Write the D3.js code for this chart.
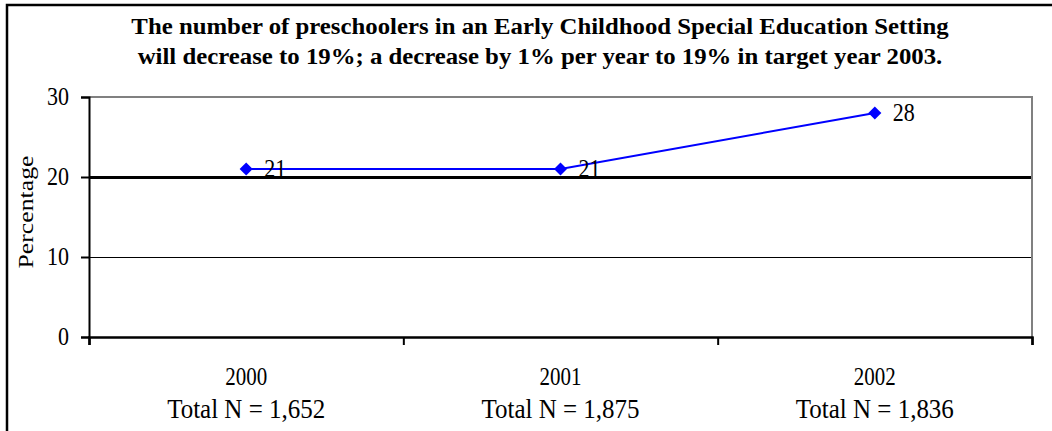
<!DOCTYPE html>
<html>
<head>
<meta charset="utf-8">
<script src="https://cdn.jsdelivr.net/npm/d3@7"></script>
<style>
  body { margin: 0; background: #fff; }
  svg { display: block; }
  text { font-family: "Liberation Serif", "Times New Roman", serif; fill: #000; }
</style>
</head>
<body>
<script>
var years = ["2000", "2001", "2002"];
var totals = ["Total N = 1,652", "Total N = 1,875", "Total N = 1,836"];
var percentages = [21, 21, 28];
var yTicks = [0, 10, 20, 30];
var titleLines = [
  "The number of preschoolers in an Early Childhood Special Education Setting",
  "will decrease to 19%; a decrease by 1% per year to 19% in target year 2003."
];
var yLabel = "Percentage";

var width = 1052;
var height = 431;
var stretch = 1.17;   // the source glyphs are drawn taller than normal
var plotLeft = 89, plotRight = 1032, plotTop = 97, plotBottom = 337;

var svg = d3.select("body")
  .append("svg")
  .attr("width", width)
  .attr("height", height);

// outer chart frame (runs off the right and bottom of the picture)
svg.append("rect")
  .attr("x", 7)
  .attr("y", 5)
  .attr("width", width + 20)
  .attr("height", height + 20)
  .attr("fill", "none")
  .attr("stroke", "#000")
  .attr("stroke-width", 2.5);

var x = d3.scaleLinear()
  .domain([0, years.length])
  .range([plotLeft, plotRight]);

var y = d3.scaleLinear()
  .domain([0, 30])
  .range([plotBottom, plotTop]);

function stretchedText(parent, tx, ty, str, size, anchor, weight, sy) {
  var g = parent.append("g")
    .attr("transform", "translate(" + tx + "," + ty + ") scale(1," + (sy || stretch) + ")");
  return g.append("text")
    .text(str)
    .attr("font-size", size + "px")
    .attr("font-weight", weight || "normal")
    .attr("text-anchor", anchor);
}

// title
titleLines.forEach(function(line, i) {
  stretchedText(svg, 540, 34 + i * 30, line, 24.8, "middle", "bold", 0.97);
});

// gridlines
svg.append("g")
  .selectAll("line")
  .data(yTicks.filter(function(d) { return d > 0 && d < 30; }))
  .enter()
  .append("line")
  .attr("x1", plotLeft)
  .attr("x2", plotRight)
  .attr("y1", function(d) { return y(d) + 0.5; })
  .attr("y2", function(d) { return y(d) + 0.5; })
  .attr("stroke", "#000")
  .attr("shape-rendering", "crispEdges")
  .attr("stroke-width", function(d) { return d === 20 ? 2.5 : 1; });

// plot area border (top and right, grey)
svg.append("path")
  .attr("d", "M" + plotLeft + "," + y(30) + "H" + plotRight + "V" + y(0))
  .attr("fill", "none")
  .attr("stroke", "#808080")
  .attr("stroke-width", 2);

// y axis
var yAxis = svg.append("g")
  .attr("transform", "translate(" + plotLeft + ",0)")
  .call(d3.axisLeft(y).tickValues(yTicks).tickSize(8).tickPadding(12));
yAxis.select(".domain").attr("stroke", "#000").attr("stroke-width", 2);
yAxis.selectAll(".tick line").attr("stroke", "#000").attr("stroke-width", 2);
yAxis.selectAll(".tick text")
  .attr("font-size", "22px")
  .attr("font-family", "Liberation Serif, serif")
  .attr("fill", "#000")
  .attr("dy", "0.3em")
  .attr("transform", "scale(1," + stretch + ")");

// x axis: ticks on category boundaries
var xAxis = svg.append("g")
  .attr("transform", "translate(0," + plotBottom + ")")
  .call(d3.axisBottom(x).tickValues(d3.range(years.length + 1)).tickSize(8).tickFormat(""));
xAxis.select(".domain").attr("stroke", "#000").attr("stroke-width", 2.5);
xAxis.selectAll(".tick line").attr("stroke", "#000").attr("stroke-width", 2);

// category labels
years.forEach(function(yr, i) {
  stretchedText(svg, x(i + 0.5), 385, yr, 21, "middle");
  stretchedText(svg, x(i + 0.5), 418, totals[i], 25, "middle", "normal", 1.08);
});

// y axis title
svg.append("g")
  .attr("transform", "translate(33,212) scale(1," + stretch + ") rotate(-90)")
  .append("text")
  .text(yLabel)
  .attr("font-size", "22px")
  .attr("text-anchor", "middle");

// series line
var line = d3.line()
  .x(function(d, i) { return x(i + 0.5); })
  .y(function(d) { return y(d); });

svg.append("path")
  .datum(percentages)
  .attr("d", line)
  .attr("fill", "none")
  .attr("stroke", "#0000ff")
  .attr("stroke-width", 2);

svg.append("g")
  .selectAll("path")
  .data(percentages)
  .enter()
  .append("path")
  .attr("d", d3.symbol().type(d3.symbolSquare).size(85))
  .attr("transform", function(d, i) {
    return "translate(" + x(i + 0.5) + "," + y(d) + ") rotate(45)";
  })
  .attr("fill", "#0000ff");

// data labels
percentages.forEach(function(d, i) {
  stretchedText(svg, x(i + 0.5) + 18, y(d) + 8, d, 22, "start");
});
</script>
</body>
</html>
